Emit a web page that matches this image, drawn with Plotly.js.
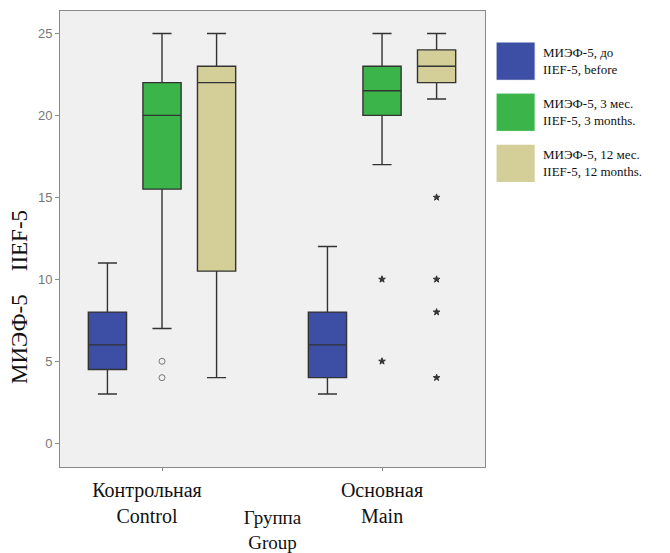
<!DOCTYPE html>
<html>
<head>
<meta charset="utf-8">
<script src="https://cdn.plot.ly/plotly-3.0.1.min.js"></script>
<style>html,body{margin:0;padding:0;background:#fff;}#chart{width:670px;height:553px;}</style>
</head>
<body>
<div id="chart"></div>
<script>
// Categories (groups)
const categories = ["Контрольная / Control", "Основная / Main"];
// Tick labels (SPSS draws the first one slightly left of its tick)
const tickLabels = [
  "Контрольная\u00A0\u00A0\u00A0\u00A0\u00A0\u00A0<br>Control\u00A0\u00A0\u00A0\u00A0\u00A0\u00A0",
  "Основная<br>Main"
];
// Series names (legend)
const seriesNames = [
  "МИЭФ-5, до<br>IIEF-5, before",
  "МИЭФ-5, 3 мес.<br>IIEF-5, 3 months.",
  "МИЭФ-5, 12 мес.<br>IIEF-5, 12 months."
];
const seriesColors = ["#3c4fa4", "#3bb54a", "#d4cf99"];

// Box statistics per series: [Control, Main]
const beforeLower  = [3, 3];
const beforeQ1     = [4.5, 4];
const beforeMedian = [6, 6];
const beforeQ3     = [8, 8];
const beforeUpper  = [11, 12];
const beforeOutliers = [[], []];

const m3Lower  = [7, 17];
const m3Q1     = [15.5, 20];
const m3Median = [20, 21.5];
const m3Q3     = [22, 23];
const m3Upper  = [25, 25];
const m3Outliers = [[5, 4], [10, 5]];

const m12Lower  = [4, 21];
const m12Q1     = [10.5, 22];
const m12Median = [22, 23];
const m12Q3     = [23, 24];
const m12Upper  = [25, 25];
const m12Outliers = [[], [15, 10, 8, 4]];

// Outlier symbols per group (SPSS: circle = outlier, star = extreme)
const outlierSymbols = ["circle-open", "star"];

const stats = [
  {lo: beforeLower, q1: beforeQ1, med: beforeMedian, q3: beforeQ3, hi: beforeUpper, out: beforeOutliers},
  {lo: m3Lower, q1: m3Q1, med: m3Median, q3: m3Q3, hi: m3Upper, out: m3Outliers},
  {lo: m12Lower, q1: m12Q1, med: m12Median, q3: m12Q3, hi: m12Upper, out: m12Outliers}
];

const traces = [];
stats.forEach((s, si) => {
  categories.forEach((cat, gi) => {
    const tr = {
      type: "box",
      name: seriesNames[si],
      legendgroup: "s" + si,
      showlegend: false,
      offsetgroup: "s" + si,
      alignmentgroup: "a",
      x: [cat],
      q1: [s.q1[gi]],
      median: [s.med[gi]],
      q3: [s.q3[gi]],
      lowerfence: [s.lo[gi]],
      upperfence: [s.hi[gi]],
      boxpoints: false,
      whiskerwidth: 0.5,
      fillcolor: seriesColors[si],
      line: {color: "#333333", width: 1.4},
      hoverinfo: "skip"
    };
    if (s.out[gi].length) {
      tr.y = [s.out[gi]];
      tr.boxpoints = "outliers";
      tr.jitter = 0;
      tr.pointpos = 0;
      tr.marker = {
        symbol: outlierSymbols[gi],
        size: gi === 0 ? 6 : 5,
        color: gi === 0 ? "#777" : "#333",
        line: {color: gi === 0 ? "#777" : "#333", width: 1}
      };
    }
    traces.push(tr);
  });
});

// Custom legend (large swatches, as in the reference)
const legendShapes = [];
const legendAnnotations = [];
const swatchTop = [0.932, 0.820, 0.708];
const swatchH = 0.084;
seriesNames.forEach((n, i) => {
  legendShapes.push({
    type: "rect", xref: "paper", yref: "paper",
    x0: 1.026, x1: 1.118, y0: swatchTop[i] - swatchH, y1: swatchTop[i],
    fillcolor: seriesColors[i], line: {color: "#ffffff", width: 1}
  });
  legendAnnotations.push({
    xref: "paper", yref: "paper", x: 1.132, y: swatchTop[i] - swatchH / 2,
    xanchor: "left", yanchor: "middle", align: "left", showarrow: false,
    text: n, font: {family: "Liberation Serif, serif", size: 13, color: "#111"}
  });
});

// Y axis title (placed like the reference, below centre)
legendAnnotations.push({
  xref: "paper", yref: "paper", x: -0.094, y: 0.373,
  xanchor: "center", yanchor: "middle", showarrow: false, textangle: -90,
  text: "МИЭФ-5\u00A0\u00A0\u00A0\u00A0IIEF-5",
  font: {family: "Liberation Serif, serif", size: 23, color: "#111"}
});

const layout = {
  width: 670, height: 553,
  margin: {l: 60, r: 185, t: 11, b: 86},
  paper_bgcolor: "#ffffff",
  plot_bgcolor: "#f0f0f0",
  boxmode: "group",
  boxgap: 0.256,
  boxgroupgap: 0.30,
  showlegend: false,
  xaxis: {
    type: "category",
    range: [-0.4636, 1.468],
    tickvals: categories,
    ticktext: tickLabels,
    showline: true, mirror: true, linecolor: "#8a8a8a", linewidth: 1,
    ticks: "outside", ticklen: 3, tickcolor: "#8a8a8a",
    showgrid: false, zeroline: false,
    ticklabelstandoff: 2,
    tickfont: {family: "Liberation Serif, serif", size: 20, color: "#111"},
    title: {
      text: "Группа<br>Group",
      standoff: 8,
      font: {family: "Liberation Serif, serif", size: 19, color: "#111"}
    }
  },
  yaxis: {
    range: [-1.45, 26.37],
    tickvals: [0, 5, 10, 15, 20, 25],
    showline: true, mirror: true, linecolor: "#8a8a8a", linewidth: 1,
    ticks: "outside", ticklen: 4, tickcolor: "#8a8a8a",
    showgrid: false, zeroline: false,
    tickfont: {family: "Liberation Sans, Arial, sans-serif", size: 13, color: "#777"}
  },
  shapes: legendShapes,
  annotations: legendAnnotations
};

Plotly.newPlot("chart", traces, layout, {displayModeBar: false, staticPlot: true});
</script>
</body>
</html>
